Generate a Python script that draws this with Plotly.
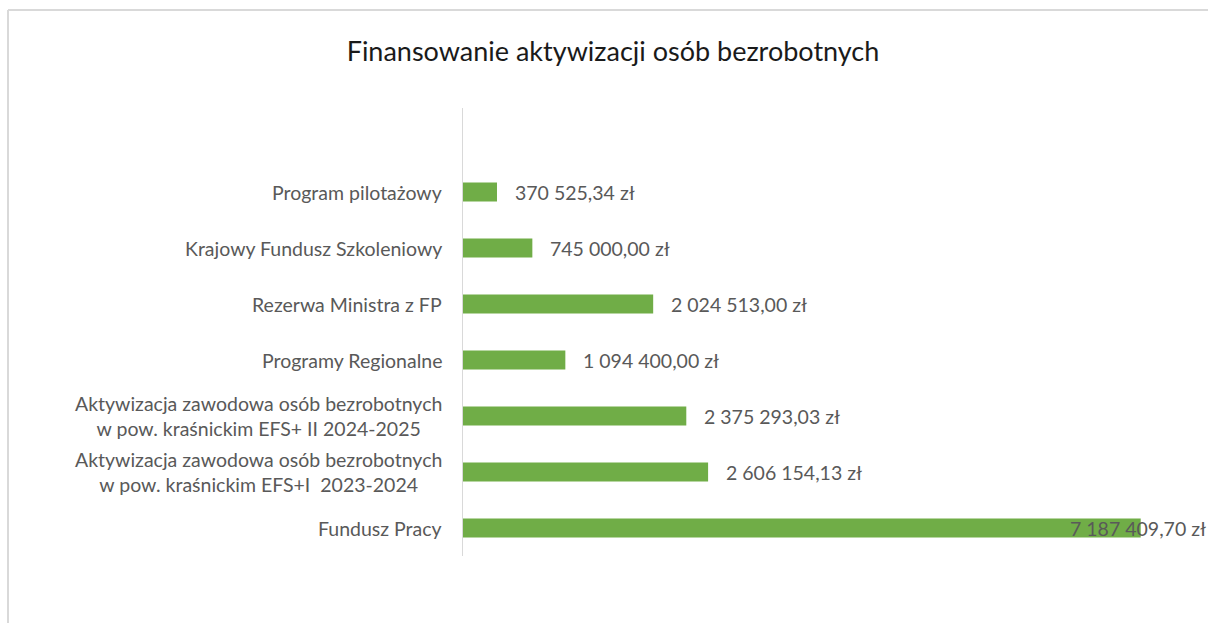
import plotly.graph_objects as go

# Data (order from bottom to top, as on the chart)
categories = [
    "Fundusz Pracy",
    "Aktywizacja zawodowa osób bezrobotnych<br>w pow. kraśnickim EFS+I&nbsp; 2023-2024",
    "Aktywizacja zawodowa osób bezrobotnych<br>w pow. kraśnickim EFS+ II 2024-2025",
    "Programy Regionalne",
    "Rezerwa Ministra z FP",
    "Krajowy Fundusz Szkoleniowy",
    "Program pilotażowy",
]
values = [7187409.70, 2606154.13, 2375293.03, 1094400.00, 2024513.00, 745000.00, 370525.34]

title = "Finansowanie aktywizacji osób bezrobotnych"


def fmt_pln(v):
    whole, frac = f"{v:,.2f}".split(".")
    return whole.replace(",", " ") + "," + frac + " zł"


W, H = 1208, 623
ML, MR, MT, MB = 462, 0, 108, 67
FONT = "Lato"
GREY = "#595959"
LBL = 19.5

idx = list(range(len(categories)))

fig = go.Figure()
fig.add_trace(go.Bar(
    x=values, y=idx, orientation="h",
    marker=dict(color="#70ad47", line=dict(width=0)),
    width=0.34, hoverinfo="skip",
))

annotations = []
# category labels (centered lines, right-anchored next to the axis)
for i, cat in zip(idx, categories):
    annotations.append(dict(
        xref="paper", x=0, yref="y", y=i, text=cat, showarrow=False,
        xanchor="right", xshift=-18, align="center",
        font=dict(family=FONT, size=LBL, color=GREY),
    ))
# value labels
vmax = max(values)
for i, v in zip(idx, values):
    if v == vmax:
        # Excel pulls the overflowing label back into the chart area
        annotations.append(dict(
            xref="paper", x=1, yref="y", y=i, text=fmt_pln(v), showarrow=False,
            xanchor="right", xshift=0, font=dict(family=FONT, size=LBL, color=GREY),
        ))
    else:
        annotations.append(dict(
            x=v, y=i, text=fmt_pln(v), showarrow=False,
            xanchor="left", xshift=16, font=dict(family=FONT, size=LBL, color=GREY),
        ))

# chart-area border (top and left edges visible in the crop)
pw, ph = W - ML - MR, H - MT - MB
bx = (8 - ML) / pw
by = 1 + (MT - 10) / ph
border = dict(color="#d9d9d9", width=2)
shapes = [
    dict(type="line", xref="paper", yref="paper", x0=bx, x1=bx, y0=-1, y1=by, line=border),
    dict(type="line", xref="paper", yref="paper", x0=bx, x1=1.5, y0=by, y1=by, line=border),
    dict(type="line", xref="x", yref="paper", x0=0, x1=0, y0=0, y1=1, line=border),
]

fig.update_layout(
    width=W, height=H,
    margin=dict(l=ML, r=MR, t=MT, b=MB),
    paper_bgcolor="white", plot_bgcolor="white",
    title=dict(text=title, x=613 / W, xref="container", xanchor="center",
               y=1 - 52 / H, yref="container", yanchor="middle",
               font=dict(family=FONT, size=27, color="#1a1a1a")),
    xaxis=dict(range=[0, 7900000], visible=False),
    yaxis=dict(range=[-0.5, 7.5], showticklabels=False, showgrid=False, zeroline=False,
               showline=False, ticks=""),
    showlegend=False,
    annotations=annotations,
    shapes=shapes,
    font=dict(family=FONT),
)

fig.write_html("out.html", config={"displayModeBar": False},
               post_script="document.body.style.margin='0';document.body.style.overflow='hidden';")
